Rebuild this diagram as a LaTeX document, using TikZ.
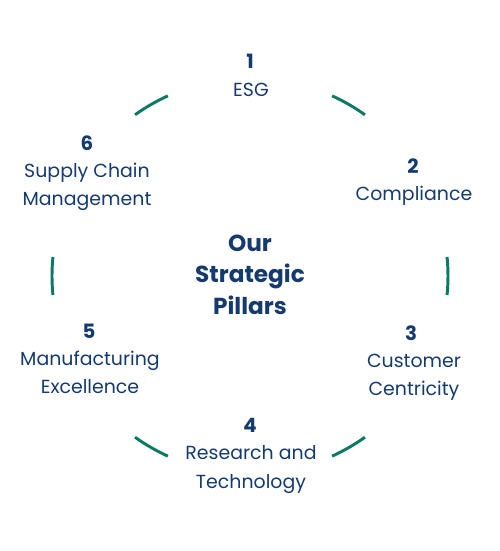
\documentclass[tikz,border=0pt]{standalone}
\usepackage{fontspec}
\setmainfont{Poppins}
\usepackage{tikz}
\usetikzlibrary{calc,positioning}
\definecolor{pillarnavy}{HTML}{153A70}
\definecolor{arcteal}{HTML}{0B7A64}

\begin{document}
\begin{tikzpicture}[x=0.75pt,y=0.75pt,
    num/.style={anchor=base,inner sep=0pt,text=pillarnavy,font=\fontsize{14.8}{17}\selectfont\bfseries},
    lbl/.style={anchor=base,inner sep=0pt,align=center,text=pillarnavy,font=\fontsize{14.2}{21.2}\selectfont},
    ttl/.style={anchor=base,inner sep=0pt,align=center,text=pillarnavy,font=\fontsize{17.4}{23.6}\selectfont\bfseries},
    ring/.style={draw=arcteal,line width=2.2pt}]
        % Ring of radius 198 round O, broken into six short arcs at 0, 60, ..., 300 degrees.
        % Each arc spans about 11 degrees.
        % Note: base of a multi-line node is the baseline of its last line.

        \useasboundingbox (-250,-275) rectangle (250,276);
        \coordinate (O) at (0,0);

        \foreach \a in {0,60,...,300}
            \draw[ring] ($(O)+(\a-5.5:198)$) arc[start angle=\a-5.5,end angle=\a+5.5,radius=198];

        % Pillar numbers
        \node[num] (n1) at (0,207.3) {1};
        \node[num] (n2) at (163,102.7) {2};
        \node[num] (n3) at (161,-64) {3};
        \node[num] (n4) at (0,-156.7) {4};
        \node[num] (n5) at (-161,-62.3) {5};
        \node[num] (n6) at (-163,126) {6};

        % Pillar names: last line sits one or two baselines under the number
        \node[lbl] (p1) at ($(n1.base)+(1,-27.5)$) {ESG};
        \node[lbl] (p2) at ($(n2.base)+(1,-27.5)$) {Compliance};
        \node[lbl] (p3) at ($(n3.base)+(3,-55.3)$) {Customer\\Centricity};
        \node[lbl] (p4) at ($(n4.base)+(1,-55.3)$) {Research and\\Technology};
        \node[lbl] (p5) at ($(n5.base)+(1,-55.3)$) {Manufacturing\\Excellence};
        \node[lbl] (p6) at ($(n6.base)+(0,-55.3)$) {Supply Chain\\Management};

        \node[ttl] (title) at (0,-38.3) {Our\\Strategic\\Pillars};

    \end{tikzpicture}
\end{document}
